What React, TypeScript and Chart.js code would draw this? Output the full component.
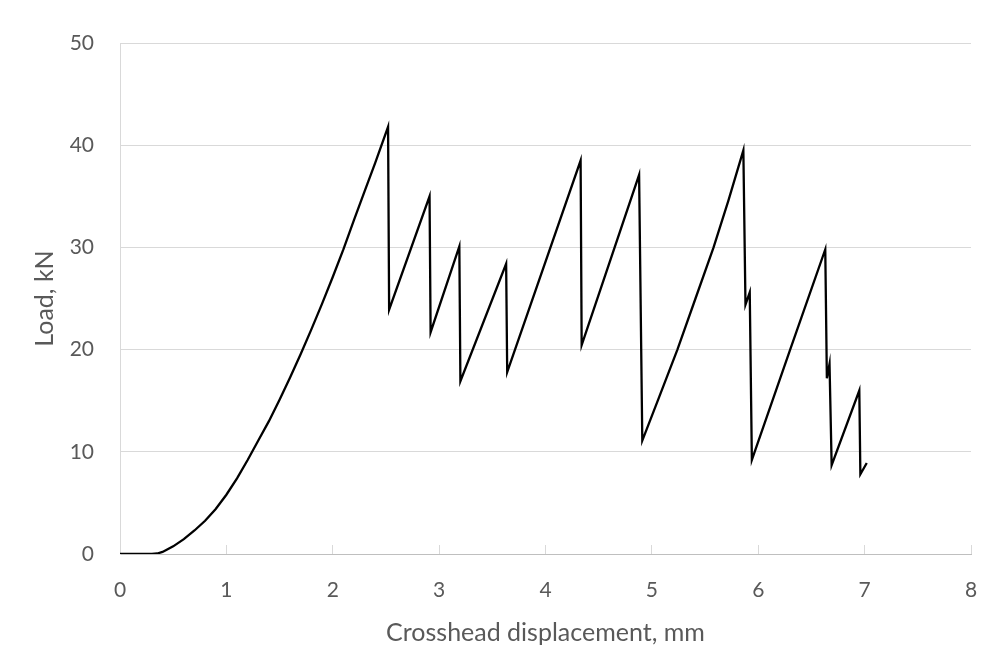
import React, { useEffect, useRef } from "react";
import { Chart, registerables } from "chart.js";

Chart.register(...registerables);

// Crosshead displacement (mm)
const displacement = [
  0, 0.3, 0.35, 0.4, 0.5, 0.6, 0.7, 0.8, 0.9, 1.0, 1.1, 1.2, 1.3, 1.4, 1.5, 1.6, 1.7, 1.8,
  1.9, 2.0, 2.1, 2.2, 2.3, 2.4, 2.52,
  2.53, 2.91, 2.92, 3.19, 3.2, 3.63, 3.64, 4.33, 4.34, 4.88, 4.91, 5.07, 5.24, 5.41, 5.58,
  5.72, 5.86, 5.88, 5.92, 5.94, 6.3, 6.63, 6.645, 6.67, 6.69, 6.95, 6.96, 7.02,
];
// Load (kN)
const load = [
  0, 0, 0.05, 0.2, 0.75, 1.45, 2.3, 3.25, 4.4, 5.8, 7.4, 9.2, 11.1, 13.0, 15.1, 17.3, 19.6, 22.0,
  24.5, 27.1, 29.8, 32.7, 35.5, 38.3, 41.8,
  23.9, 35.0, 21.7, 30.1, 16.9, 28.4, 17.8, 38.5, 20.45, 37.1, 11.1, 15.4, 20.0, 25.0, 30.0,
  34.6, 39.5, 24.4, 25.6, 9.2, 20.0, 29.8, 17.2, 18.6, 8.7, 16.0, 7.8, 8.9,
];

const xTitle = "Crosshead displacement, mm";
const yTitle = "Load, kN";
const xMin = 0, xMax = 8, xStep = 1;
const yMin = 0, yMax = 50, yStep = 10;

const FONT = "Lato, 'Open Sans', sans-serif";
const TEXT = "#595959";

export default function App() {
  const ref = useRef<HTMLCanvasElement | null>(null);
  useEffect(() => {
    if (!ref.current) return;
    const points = displacement.map((x, i) => ({ x, y: load[i] }));
    const chart = new Chart(ref.current, {
      type: "scatter",
      data: {
        datasets: [
          {
            data: points,
            showLine: true,
            borderColor: "#000000",
            backgroundColor: "#000000",
            borderWidth: 2.3,
            pointRadius: 0,
            pointHoverRadius: 0,
            tension: 0,
            fill: false,
          },
        ],
      },
      options: {
        animation: false,
        responsive: false,
        maintainAspectRatio: false,
        layout: { padding: { top: 43, right: 13, left: 0, bottom: 0 } },
        plugins: { legend: { display: false }, tooltip: { enabled: false } },
        scales: {
          x: {
            type: "linear",
            min: xMin,
            max: xMax,
            ticks: {
              stepSize: xStep,
              padding: 33,
              color: TEXT,
              font: { family: FONT, size: 21 },
            },
            grid: {
              drawOnChartArea: false,
              drawTicks: true,
              tickLength: -9,
              color: "#d9d9d9",
              lineWidth: 1,
            },
            border: { display: true, color: "#bfbfbf", width: 1 },
            title: {
              display: true,
              text: xTitle,
              color: TEXT,
              font: { family: FONT, size: 25 },
              padding: { top: 0, bottom: 8 },
            },
            afterFit: (scale: any) => {
              scale.height = 102;
              scale.paddingLeft = 0;
              scale.paddingRight = 0;
            },
          },
          y: {
            type: "linear",
            min: yMin,
            max: yMax,
            ticks: {
              stepSize: yStep,
              padding: 26,
              color: TEXT,
              font: { family: FONT, size: 21 },
            },
            grid: {
              drawTicks: false,
              color: "#d9d9d9",
              lineWidth: 1,
            },
            border: { display: true, color: "#d9d9d9", width: 1 },
            title: {
              display: true,
              text: yTitle,
              color: TEXT,
              font: { family: FONT, size: 25 },
              padding: { top: 30, bottom: 0 },
            },
            afterFit: (scale: any) => {
              scale.width = 120;
            },
          },
        },
      },
    });
    return () => chart.destroy();
  }, []);
  return (
    <div style={{ position: "absolute", left: 0, top: 0, width: 984, height: 656, background: "#ffffff" }}>
      <canvas ref={ref} width={984} height={656} style={{ display: "block" }} />
    </div>
  );
}
